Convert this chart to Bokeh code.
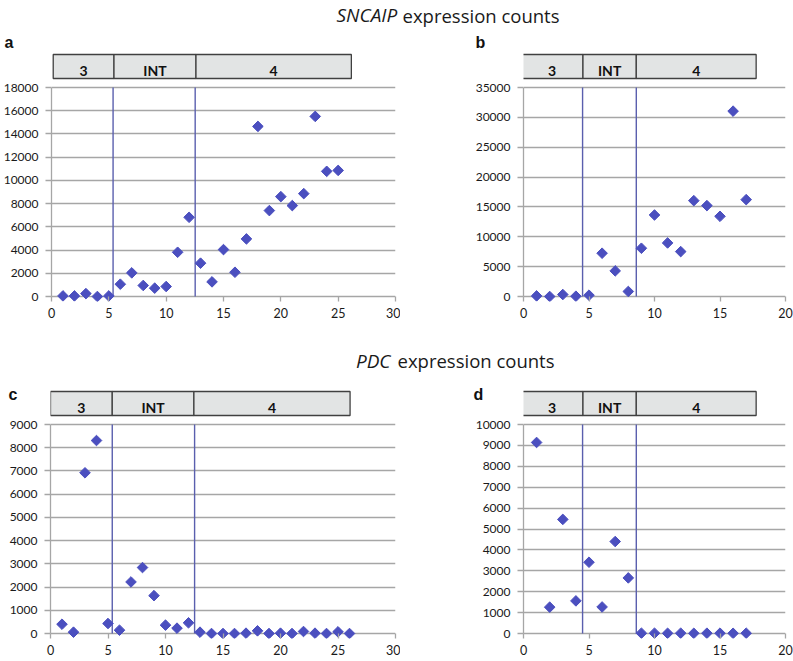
from bokeh.plotting import figure
from bokeh.layouts import column, row
from bokeh.models import Range1d, FixedTicker, NumeralTickFormatter, Title
from bokeh.core.properties import value
from bokeh.embed import file_html
from bokeh.resources import INLINE
import numpy as np

# ---------------- data ----------------
title_top = ["SNCAIP", "expression counts"]
title_bottom = ["PDC", "expression counts"]
stage_names = ["3", "INT", "4"]

a_x = [1, 2, 3, 4, 5, 6, 7, 8, 9, 10, 11, 12, 13, 14, 15, 16, 17, 18, 19, 20, 21, 22, 23, 24, 25]
a_y = [50, 50, 250, 0, 50, 1060, 2035, 950, 720, 860, 3810, 6820, 2870, 1260, 4040,
       2090, 4960, 14650, 7400, 8600, 7830, 8860, 15510, 10780, 10860]

b_x = [1, 2, 3, 4, 5, 6, 7, 8, 9, 10, 11, 12, 13, 14, 15, 16, 17]
b_y = [100, 0, 330, 50, 220, 7250, 4290, 840, 8080, 13650, 8970, 7520, 16050, 15220,
       13430, 31040, 16220]

c_x = [1, 2, 3, 4, 5, 6, 7, 8, 9, 10, 11, 12, 13, 14, 15, 16, 17, 18, 19, 20, 21, 22, 23, 24, 25, 26]
c_y = [400, 57, 6920, 8310, 430, 143, 2220, 2840, 1630, 360, 230, 460, 57, 0, 0, 0, 14,
       115, 0, 14, 0, 86, 14, 0, 72, 0]

d_x = [1, 2, 3, 4, 5, 6, 7, 8, 9, 10, 11, 12, 13, 14, 15, 16, 17]
d_y = [9140, 1260, 5460, 1560, 3410, 1270, 4400, 2660, 15, 15, 10, 15, 10, 15, 15, 10, 15]

a_yticks = [0, 2000, 4000, 6000, 8000, 10000, 12000, 14000, 16000, 18000]
b_yticks = [0, 5000, 10000, 15000, 20000, 25000, 30000, 35000]
c_yticks = [0, 1000, 2000, 3000, 4000, 5000, 6000, 7000, 8000, 9000]
d_yticks = [0, 1000, 2000, 3000, 4000, 5000, 6000, 7000, 8000, 9000, 10000]
ac_xticks = [0, 5, 10, 15, 20, 25, 30]
bd_xticks = [0, 5, 10, 15, 20]

# stage boundaries (box edges) and stage separator lines, in x units
a_stage_edges = [0.15, 5.45, 12.6, 26.15]
c_stage_edges = [0.0, 5.37, 12.47, 26.05]
bd_stage_edges = [-0.18, 4.54, 8.61, 17.76]
ac_stage_lines = [5.37, 12.53]
bd_stage_lines = [4.51, 8.61]

# ---------------- style ----------------
MARK = "#4b4fbf"
VLINE = "#5a5fae"
GRID = "#a6a6a6"
BOXFILL = "#e2e4e4"
BOXLINE = "#404040"
TXT = "#1a1a1a"
FONT = "Lato"
TFONT = "Open Sans"


def panel(xs, ys, xticks, yticks, edges, lines, letter, g):
    xmax = xticks[-1]
    ymax = yticks[-1]
    s = ymax / (g["y0"] - g["ytop"])
    over = 5
    fb = g["y0"] + over
    y_start = -over * s
    y_end = ymax + (g["ytop"] - g["ftop"]) * s

    def dy(py):
        return (g["y0"] - py) * s

    p = figure(width=g["w"], height=g["h"], x_range=Range1d(0, xmax),
               y_range=Range1d(y_start, y_end), output_backend="svg",
               toolbar_location=None,
               min_border_left=g["fleft"] - g["fx"],
               min_border_right=g["fx"] + g["w"] - g["fright"],
               min_border_top=g["ftop"] - g["fy"],
               min_border_bottom=g["fy"] + g["h"] - fb)
    p.outline_line_color = None
    p.background_fill_color = "white"
    p.border_fill_color = "white"
    p.xgrid.visible = False
    p.ygrid.ticker = FixedTicker(ticks=yticks)
    p.ygrid.grid_line_color = GRID
    p.ygrid.grid_line_width = 1.3

    ya = p.yaxis[0]
    ya.ticker = FixedTicker(ticks=yticks)
    ya.formatter = NumeralTickFormatter(format="0")
    ya.bounds = (0, ymax)
    ya.axis_line_color = GRID
    ya.axis_line_width = 1.3
    ya.major_tick_line_color = GRID
    ya.major_tick_line_width = 1.3
    ya.major_tick_out = 6
    ya.major_tick_in = 0
    ya.minor_tick_line_color = None
    ya.major_label_standoff = 7
    ya.major_label_text_font = FONT
    ya.major_label_text_font_size = "12px"
    ya.major_label_text_color = TXT

    xa = p.xaxis[0]
    xa.ticker = FixedTicker(ticks=xticks)
    xa.axis_line_color = None
    xa.major_tick_line_color = GRID
    xa.major_tick_line_width = 1.3
    xa.major_tick_in = over
    xa.major_tick_out = 0
    xa.minor_tick_line_color = None
    xa.major_label_standoff = 6
    xa.major_label_text_font = FONT
    xa.major_label_text_font_size = "12.5px"
    xa.major_label_text_color = TXT

    # stage separator lines
    p.segment(x0=lines, y0=[0] * len(lines), x1=lines, y1=[ymax] * len(lines),
              line_color=VLINE, line_width=1.4)

    # stage header boxes
    btop = dy(g["btop"])
    bbot = dy(g["bbot"])
    p.quad(left=edges[:-1], right=edges[1:], bottom=bbot, top=btop,
           fill_color=BOXFILL, line_color=BOXLINE, line_width=1.3)
    centers = [(edges[i] + edges[i + 1]) / 2 for i in range(3)]
    p.text(x=centers, y=[dy(g["lmid"])] * 3, text=stage_names,
           text_font=value(FONT), text_font_style="bold", text_font_size="14px",
           text_align="center", text_baseline="middle", text_color="#111111")

    # data points (diamonds)
    p.scatter(xs, ys, marker="square", angle=np.pi / 4, size=7.5,
              fill_color=MARK, line_color=MARK, line_width=1)

    # panel letter (title annotation, placed left of the frame)
    t = Title(text=letter, align="left", offset=g["lx"] - g["fleft"],
              standoff=-2 * (g["lbot"] - g["ftop"]),
              text_font="Liberation Sans", text_font_style="bold",
              text_font_size="16px", text_color="#111111")
    p.add_layout(t, "above")
    return p


geo_a = dict(fx=0, fy=28, w=400, h=310, fleft=50, fright=395, ftop=50, y0=296, ytop=87,
             lx=3, lbot=50, btop=54, bbot=78, lmid=70)
geo_b = dict(fx=400, fy=28, w=393, h=310, fleft=523, fright=785, ftop=50, y0=296, ytop=87,
             lx=475, lbot=50, btop=54, bbot=78, lmid=70)
geo_c = dict(fx=0, fy=372, w=400, h=289, fleft=50, fright=395, ftop=386, y0=633, ytop=424,
             lx=8, lbot=402.5, btop=391, bbot=415, lmid=407)
geo_d = dict(fx=400, fy=372, w=393, h=289, fleft=523, fright=785, ftop=386, y0=633, ytop=424,
             lx=473, lbot=402.5, btop=391, bbot=415, lmid=407)

fa = panel(a_x, a_y, ac_xticks, a_yticks, a_stage_edges, ac_stage_lines, "a", geo_a)
fb = panel(b_x, b_y, bd_xticks, b_yticks, bd_stage_edges, bd_stage_lines, "b", geo_b)
fc = panel(c_x, c_y, ac_xticks, c_yticks, c_stage_edges, ac_stage_lines, "c", geo_c)
fd = panel(d_x, d_y, bd_xticks, d_yticks, bd_stage_edges, bd_stage_lines, "d", geo_d)


def title_fig(top, h, words, split_r, split_l, mid):
    t = figure(width=793, height=h, x_range=Range1d(0, 793), y_range=Range1d(top + h, top),
               output_backend="svg", toolbar_location=None, x_axis_type=None,
               y_axis_type=None, min_border=0)
    t.outline_line_color = None
    t.grid.visible = False
    t.text(x=[split_r], y=[mid], text=[words[0]], text_font=value(TFONT),
           text_font_style="italic", text_font_size="19px", text_align="right",
           text_baseline="middle", text_color=TXT)
    t.text(x=[split_l], y=[mid], text=[words[1]], text_font=value(TFONT),
           text_font_size="18.5px", text_align="left", text_baseline="middle",
           text_color=TXT)
    return t


t1 = title_fig(0, 28, title_top, 396.7, 402, 14.5)
t2 = title_fig(338, 34, title_bottom, 390, 397, 360)

layout = column(t1, row(fa, fb), t2, row(fc, fd))

with open("out.html", "w") as f:
    f.write(file_html(layout, INLINE))
